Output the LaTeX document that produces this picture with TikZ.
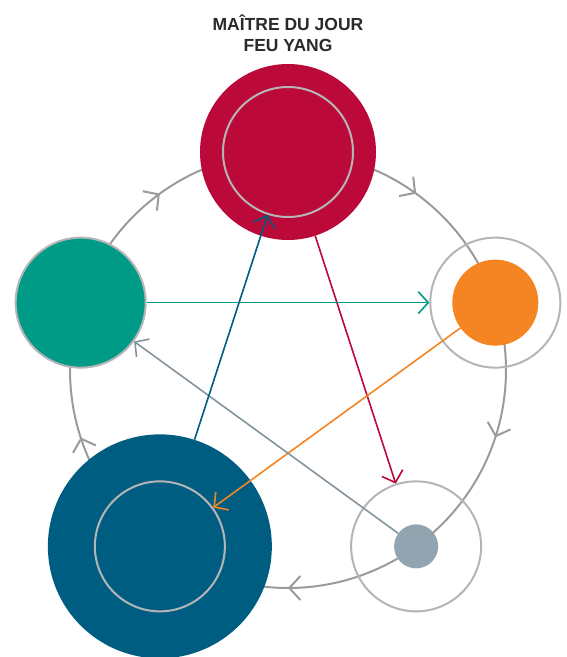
\documentclass[tikz,border=0pt]{standalone}
\usepackage{fontspec}
\usepackage{tikz}
\usetikzlibrary{arrows.meta, decorations.markings}

\newfontfamily\titlefont{Liberation Sans}

\definecolor{firered}{HTML}{BB093A}
\definecolor{earthorange}{HTML}{F58523}
\definecolor{metalgray}{HTML}{92A4AF}
\definecolor{waterblue}{HTML}{005D82}
\definecolor{woodteal}{HTML}{009B86}
\definecolor{ringgray}{HTML}{B5B5B7}
\definecolor{loopgray}{HTML}{9A9B9D}
\definecolor{titlegray}{HTML}{2B2A29}

\begin{document}
\begin{tikzpicture}[x=1pt, y=1pt]
\useasboundingbox (-288,-287) rectangle (279,370);

\tikzset{disc/.style={circle, inner sep=0pt, fill=#1}}
\tikzset{ring/.style={circle, inner sep=0pt, draw=ringgray, line width=2pt, minimum size=130pt}}
\tikzset{star/.style={draw=#1, line width=1.6pt, -{Straight Barb[length=10pt, width=22pt]}}}
\tikzset{loopline/.style={draw=loopgray, line width=2pt, postaction={decorate},
	decoration={markings, mark=between positions 0.1 and 0.9 step 0.2 with
	{\arrow[draw=loopgray, line width=2pt]{Straight Barb[length=11pt, width=24pt]}}}}}

% generating cycle, behind the elements
\coordinate (firetop) at (90:218);
\path[loopline] (firetop) arc[start angle=90, end angle=-270, radius=218];

\node[disc=firered, minimum size=176pt] (fire) at (firetop) {};
\node[disc=earthorange, minimum size=86pt] (earth) at (18:218) {};
\node[disc=metalgray, minimum size=44pt] (metal) at (-54:218) {};
\node[disc=waterblue, minimum size=224pt] (water) at (-126:218) {};

\node[ring] (firering) at (fire) {};
\node[ring] (earthring) at (earth) {};
\node[ring] (metalring) at (metal) {};
\node[ring] (waterring) at (water) {};
\node[ring, fill=woodteal] (woodring) at (162:218) {};

\node[text=titlegray, align=center, inner sep=0pt,
	font=\titlefont\bfseries\fontsize{17.5}{21}\selectfont] (heading) at (0,337)
	{MAÎTRE DU JOUR\\FEU YANG};

\path
	(fire) edge [star=firered] (metalring)
	(earth) edge [star=earthorange] (waterring)
	(woodring) edge [star=woodteal] (earthring)
	(metal) edge [star=metalgray!90!black] (woodring)
	(water) edge [star=waterblue] (firering);

\end{tikzpicture}
\end{document}
